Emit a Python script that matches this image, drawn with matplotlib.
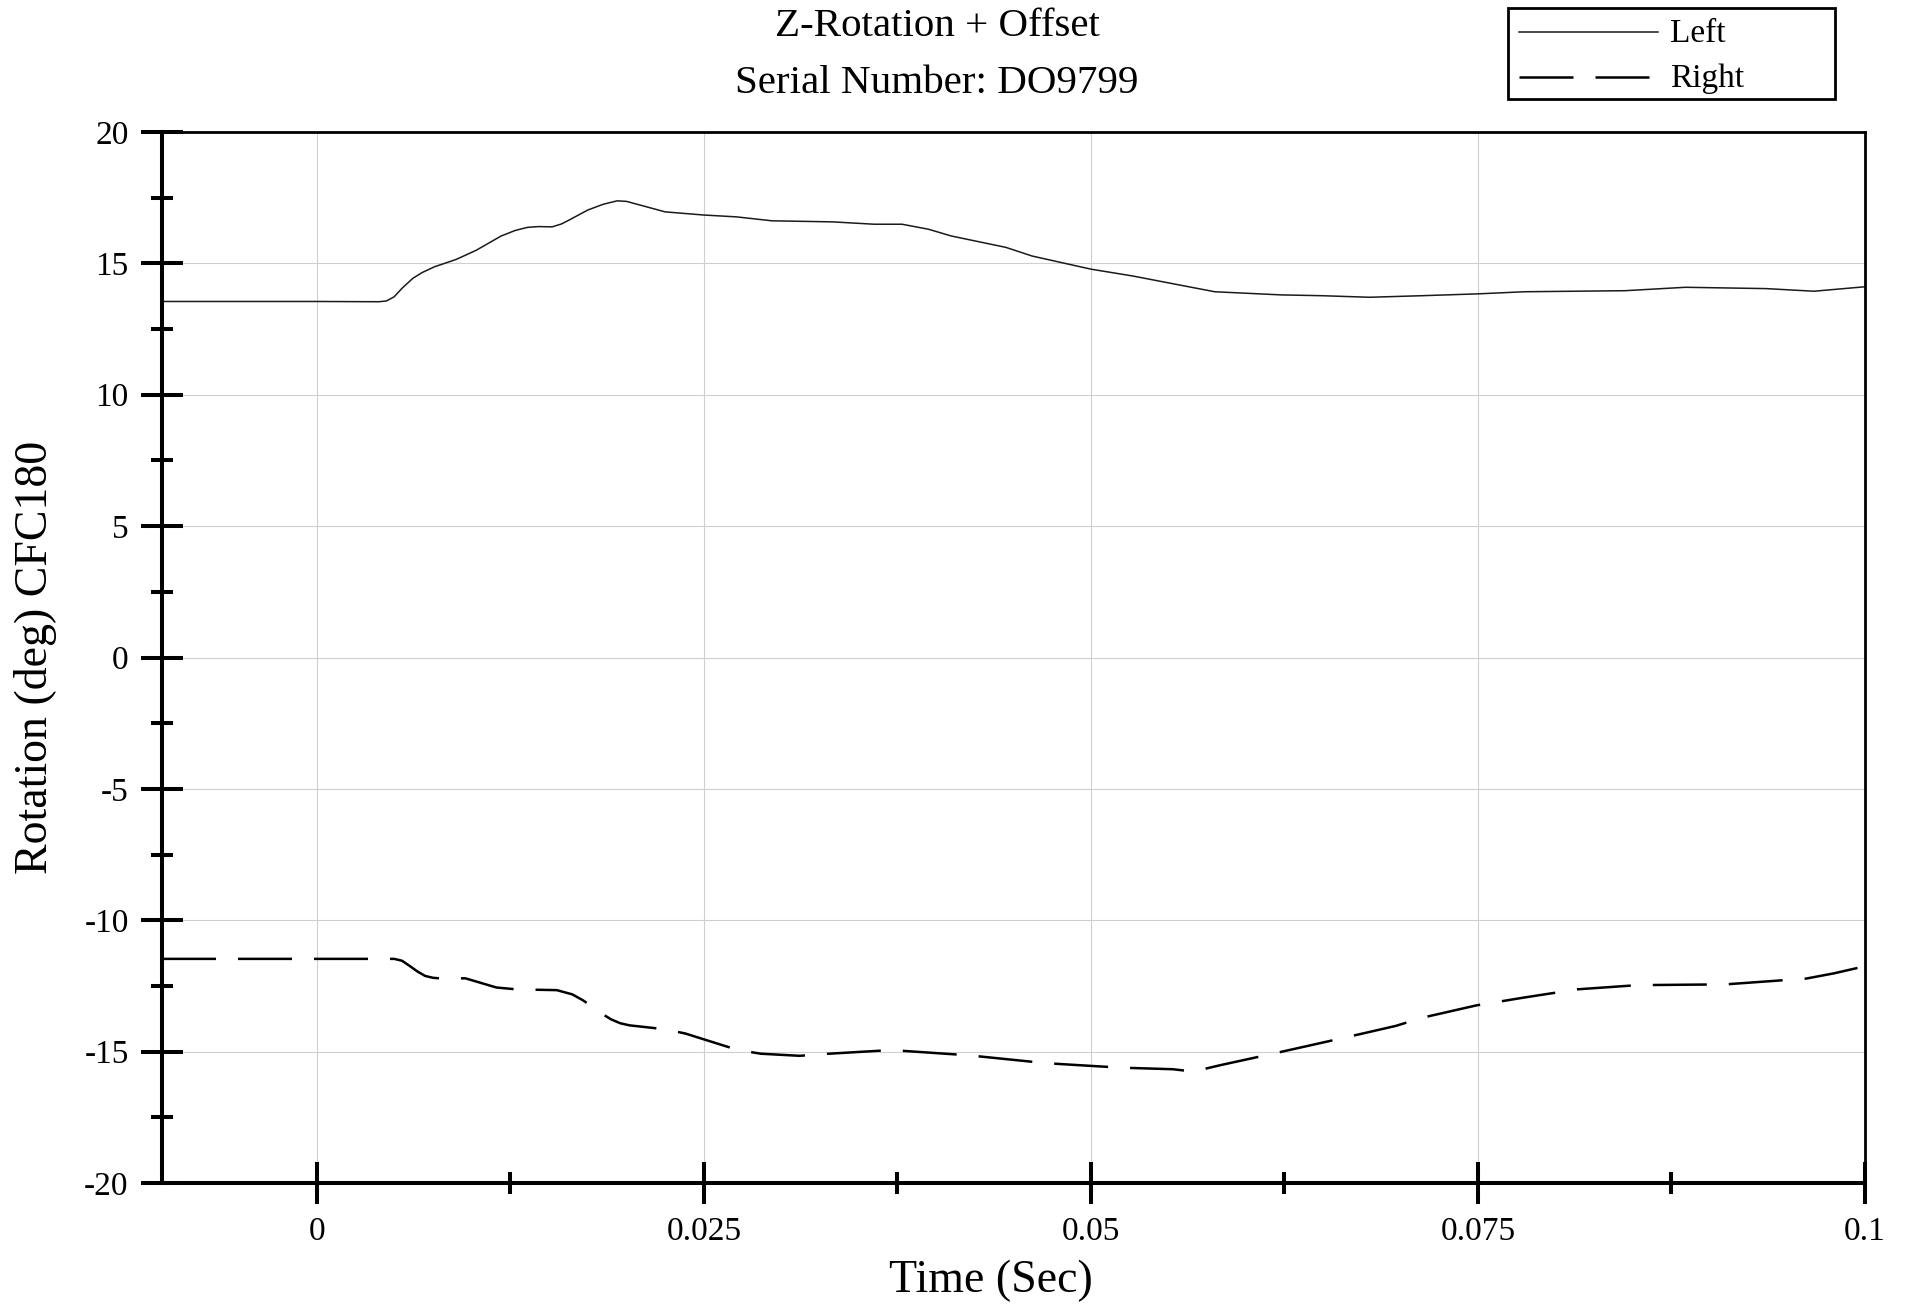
import matplotlib
matplotlib.use("Agg")
import matplotlib.pyplot as plt
from matplotlib.lines import Line2D
from matplotlib.patches import Rectangle

plt.rcParams['font.family'] = ['Liberation Serif', 'DejaVu Serif']
plt.rcParams['axes.unicode_minus'] = False

# ---- data ----
left_t = [-0.01, 0.0, 0.004, 0.0045, 0.005, 0.0055, 0.0062, 0.0068, 0.0076, 0.0090,
          0.0103, 0.0119, 0.0128, 0.0136, 0.0143, 0.0152, 0.0158, 0.0163, 0.0175,
          0.0185, 0.0194, 0.0200, 0.0205, 0.0215, 0.0225, 0.025, 0.0271, 0.0294,
          0.0333, 0.0360, 0.0378, 0.0395, 0.0410, 0.0445, 0.0462, 0.0500, 0.0527,
          0.0549, 0.0580, 0.0623, 0.0649, 0.0680, 0.0714, 0.0750, 0.0780, 0.0845,
          0.0884, 0.0936, 0.0967, 0.1000]
left_v = [13.55, 13.55, 13.54, 13.57, 13.73, 14.05, 14.43, 14.65, 14.87, 15.15,
          15.50, 16.04, 16.25, 16.37, 16.40, 16.39, 16.50, 16.65, 17.03,
          17.25, 17.38, 17.36, 17.28, 17.12, 16.96, 16.84, 16.77, 16.62,
          16.58, 16.49, 16.49, 16.30, 16.04, 15.61, 15.28, 14.78, 14.52,
          14.27, 13.92, 13.80, 13.77, 13.71, 13.77, 13.84, 13.92, 13.96,
          14.09, 14.04, 13.94, 14.11]

right_t = [-0.01, 0.0, 0.0050, 0.0055, 0.0060, 0.0065, 0.0070, 0.0075, 0.0081, 0.0096,
           0.0116, 0.0129, 0.0155, 0.0165, 0.0172, 0.0178, 0.0184, 0.0190, 0.0196,
           0.0202, 0.0225, 0.0238, 0.0272, 0.0287, 0.0312, 0.0322, 0.0371, 0.0421,
           0.0471, 0.0519, 0.0553, 0.0566, 0.0584, 0.0619, 0.0666, 0.0697, 0.0714,
           0.0749, 0.0780, 0.0814, 0.0853, 0.0910, 0.0962, 0.0980, 0.1000]
right_v = [-11.47, -11.47, -11.47, -11.54, -11.74, -11.95, -12.12, -12.19, -12.22,
           -12.21, -12.56, -12.63, -12.66, -12.82, -13.05, -13.29, -13.55, -13.77,
           -13.92, -14.00, -14.15, -14.31, -14.94, -15.08, -15.16, -15.11, -14.94,
           -15.14, -15.44, -15.61, -15.67, -15.76, -15.51, -15.06, -14.44, -14.02,
           -13.71, -13.24, -12.94, -12.63, -12.47, -12.44, -12.22, -12.02, -11.75]

series_names = ['Left', 'Right']
x_ticks = [0, 0.025, 0.05, 0.075, 0.1]
x_tick_labels = ['0', '0.025', '0.05', '0.075', '0.1']
x_minor = [0.0125, 0.0375, 0.0625, 0.0875]
y_ticks = [-20, -15, -10, -5, 0, 5, 10, 15, 20]
y_tick_labels = ['-20', '-15', '-10', '-5', '0', '5', '10', '15', '20']
y_minor = [-17.5, -12.5, -7.5, -2.5, 2.5, 7.5, 12.5, 17.5]
title1 = 'Z-Rotation + Offset'
title2 = 'Serial Number: DO9799'
xlabel = 'Time (Sec)'
ylabel = 'Rotation (deg) CFC180'

W, H = 1908, 1304
fig = plt.figure(figsize=(W / 100, H / 100), dpi=100)
L, R, T, B = 162, 1865, 132, 1183
ax = fig.add_axes([L / W, 1 - B / H, (R - L) / W, (B - T) / H])

ax.plot(left_t, left_v, color='#1a1a1a', lw=1.1, solid_joinstyle='round')
ax.plot(right_t, right_v, color='black', lw=1.8, dashes=(21.6, 8.8))

ax.set_xticks(x_ticks)
ax.set_xticklabels(x_tick_labels)
ax.set_xticks(x_minor, minor=True)
ax.set_yticks(y_ticks)
ax.set_yticklabels(y_tick_labels)
ax.set_yticks(y_minor, minor=True)
ax.set_xlim(-0.01, 0.1)
ax.set_ylim(-20, 20)

ax.grid(True, which='major', color='#cfcfcf', lw=0.8)
ax.set_axisbelow(True)

ax.tick_params(which='major', direction='inout', length=30, width=2.9,
               labelsize=24, colors='black')
ax.tick_params(which='minor', direction='inout', length=16, width=2.9)
ax.tick_params(axis='y', which='major', pad=9)
ax.tick_params(axis='x', which='major', pad=9)

for s in ['left', 'bottom']:
    ax.spines[s].set_linewidth(2.9)
for s in ['top', 'right']:
    ax.spines[s].set_linewidth(2.0)

# titles & labels
fig.text(937 / W, 1 - 36 / H, title1, ha='center', va='baseline', fontsize=29.5)
fig.text(937 / W, 1 - 93 / H, title2, ha='center', va='baseline', fontsize=29.5)
fig.text(991 / W, 1 - 1292 / H, xlabel, ha='center', va='baseline', fontsize=33)
fig.text(36 / W, 1 - 657 / H, ylabel, ha='center', va='center', rotation=90, fontsize=33)

# legend box (drawn manually to match reference box size)
lx0, ly0, lx1, ly1 = 1508, 8, 1835, 99
fig.add_artist(Rectangle((lx0 / W, 1 - ly1 / H), (lx1 - lx0) / W, (ly1 - ly0) / H,
                         transform=fig.transFigure, fill=False, ec='black', lw=2.0))
fig.add_artist(Line2D([1519 / W, 1658 / W], [1 - 32 / H, 1 - 32 / H],
                      transform=fig.transFigure, color='#1a1a1a', lw=1.1))
fig.add_artist(Line2D([1519 / W, 1658 / W], [1 - 77 / H, 1 - 77 / H],
                      transform=fig.transFigure, color='black', lw=1.8, dashes=(21.6, 8.8)))
fig.text(1670 / W, 1 - 42 / H, series_names[0], ha='left', va='baseline', fontsize=24)
fig.text(1670 / W, 1 - 87 / H, series_names[1], ha='left', va='baseline', fontsize=24)

fig.savefig('out.png', dpi=100)
